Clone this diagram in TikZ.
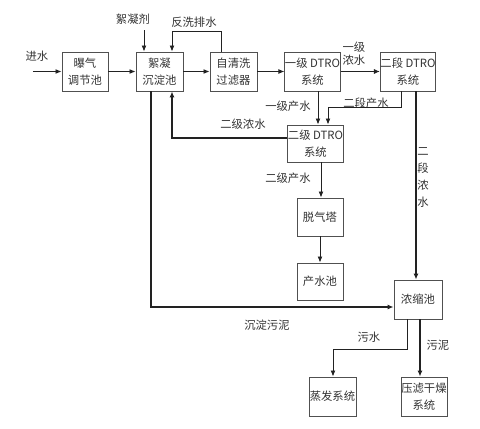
\documentclass[tikz,border=0pt]{standalone}
\usepackage{fontspec}
\newfontfamily\cjk{Noto Sans CJK SC}
\usetikzlibrary{arrows.meta,calc}
\definecolor{linec}{HTML}{222222}
\definecolor{boxc}{HTML}{505050}
\definecolor{txt}{HTML}{333333}
\begin{document}
\begin{tikzpicture}[x=0.75pt,y=-0.75pt,
  every node/.style={font=\cjk\fontsize{8.5}{13}\selectfont, text=txt},
  box/.style={draw=boxc, line width=0.7pt, inner sep=0pt, align=center},
  lbl/.style={inner sep=0pt, align=center},
  flow/.style={draw=linec, line width=0.6pt, -{Latex[length=4.5pt,width=3.6pt]}},
  heavy/.style={draw=linec, line width=1.4pt, -{Latex[length=4.5pt,width=3.8pt]}}]
\useasboundingbox[fill=white] (0,0) rectangle (480,429);
% boxes
\node[box, minimum width=34.5pt, minimum height=29.25pt] (aer) at (85,71.5) {曝气\\调节池};
\node[box, minimum width=35.25pt, minimum height=29.25pt] (sed) at (159.5,71.5) {絮凝\\沉淀池};
\node[box, minimum width=35.25pt, minimum height=29.25pt] (flt) at (233.5,71.5) {自清洗\\过滤器};
\node[box, minimum width=38.25pt, minimum height=29.25pt] (ro1) at (312.5,71.5) {一级 DTRO\\系统};
\node[box, minimum width=37.5pt, minimum height=29.25pt] (ro2) at (408,71.5) {二段 DTRO\\系统};
\node[box, minimum width=39.75pt, minimum height=27.75pt] (ro3) at (315.5,143.5) {二级 DTRO\\系统};
\node[box, minimum width=34.5pt, minimum height=28.5pt] (deg) at (320,217) {脱气塔};
\node[box, minimum width=34.5pt, minimum height=27.75pt] (pw) at (320,281.5) {产水池};
\node[box, minimum width=36pt, minimum height=29.25pt] (con) at (418,299.5) {浓缩池};
\node[box, minimum width=35.25pt, minimum height=29.25pt] (eva) at (332.5,396.5) {蒸发系统};
\node[box, minimum width=34.5pt, minimum height=29.25pt] (prs) at (424,396.5) {压滤干燥\\系统};
% labels
\node[lbl] (Lin) at (37,56) {进水};
\node[lbl] (Lfloc) at (133,19) {絮凝剂};
\node[lbl] (Lbw) at (194,22) {反洗排水};
\node[lbl, font=\cjk\fontsize{8.5}{10}\selectfont] (Lc1) at (354,53.5) {一级\\浓水};
\node[lbl] (Lp1) at (288,106) {一级产水};
\node[lbl] (Lp2) at (366,103) {二段产水};
\node[lbl] (Lc3) at (243,124) {二级浓水};
\node[lbl] (Lp3) at (288,178) {二级产水};
\node[lbl, font=\cjk\fontsize{8.5}{12.75}\selectfont] (Lc2) at (423,178) {二\\段\\浓\\水};
\node[lbl] (Lsl) at (267,325) {沉淀污泥};
\node[lbl] (Lww) at (369,337) {污水};
\node[lbl] (Lsd) at (438,345) {污泥};
% coordinates
\coordinate (in) at (33,71.5);
\coordinate (fl) at (144,30);
\coordinate (bw0) at ($(flt.north)+(-12.5,0)$);
\coordinate (bw1) at (221,31);
\coordinate (bw2) at (172,31);
\coordinate (p1) at ($(ro1.south)+(5.5,0)$);
\coordinate (p2) at ($(ro2.south)+(-7,0)$);
\coordinate (c2) at (328,107);
\coordinate (p3) at ($(ro2.south)+(8,0)$);
\coordinate (p4) at ($(ro3.west)+(0,-5.5)$);
\coordinate (c4) at (172,138);
\coordinate (p5) at ($(sed.south)+(-8.5,0)$);
\coordinate (c5) at (151,307);
\coordinate (p6) at ($(ro3.south)+(5.5,0)$);
\coordinate (p7) at ($(con.south)+(-11,0)$);
\coordinate (c7) at (333,349);
\coordinate (p8) at ($(con.south)+(2,0)$);
% connectors
\draw[flow] (in) -- (aer);
\draw[flow] (aer) -- (sed);
\draw[flow] (sed) -- (flt);
\draw[flow] (flt) -- (ro1);
\draw[heavy] (ro1) -- (ro2);
\draw[flow] (fl) -- (fl |- sed.north);
\draw[flow] (bw0) -- (bw1) -- (bw2) -- (bw2 |- sed.north);
\draw[flow] (p1) -- (p1 |- ro3.north);
\draw[flow] (p2) |- (c2) -- (c2 |- ro3.north);
\draw[heavy] (p3) -- (p3 |- con.north);
\draw[heavy] (p4) -- (c4) -- (c4 |- sed.south);
\draw[heavy] (p5) -- (c5) -- (c5 -| con.west);
\draw[flow] (p6) -- (p6 |- deg.north);
\draw[flow] (deg) -- (pw);
\draw[flow] (p7) |- (c7) -- (c7 |- eva.north);
\draw[heavy] (p8) -- (p8 |- prs.north);
\end{tikzpicture}
\end{document}
